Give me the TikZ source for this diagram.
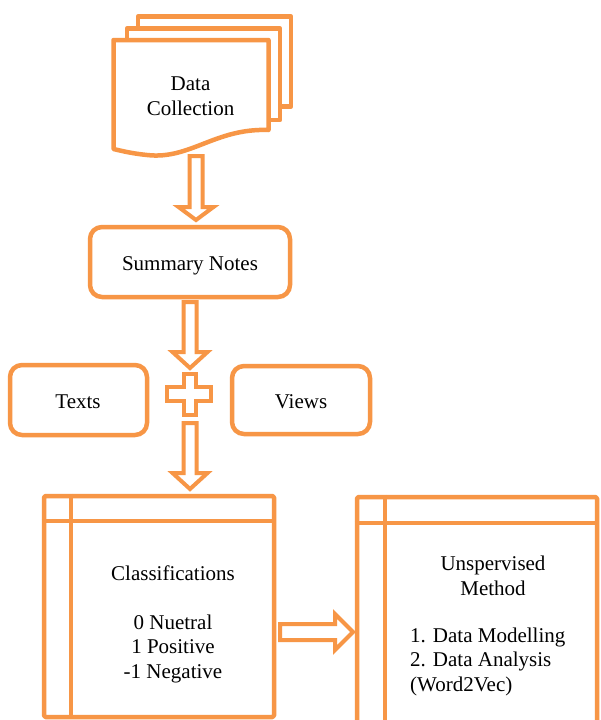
\documentclass[tikz,border=0pt]{standalone}
\usepackage{fontspec}
\setmainfont{Liberation Serif}
\definecolor{orgc}{RGB}{247,150,70}
\tikzset{
  ol/.style={draw=orgc, line width=4.5pt, line join=round},
  rbox/.style={ol, fill=white, rounded corners=12pt, inner sep=0pt},
  panel/.style={ol, fill=white, rounded corners=1.5pt, inner sep=0pt},
  txt/.style={font=\fontsize{21}{24.5}\selectfont, inner sep=0pt, anchor=base},
  arr/.style={draw=orgc, line width=4pt, line join=miter, fill=white}
}
\newcommand\bdown[4]{\draw[arr] (#1-6.5,#2) -- (#1+6.5,#2) -- (#1+6.5,#3) -- (#1+17.5,#3) -- (#1,#4) -- (#1-17.5,#3) -- (#1-6.5,#3) -- cycle;}
\begin{document}
\begin{tikzpicture}[x=1pt,y=-1pt]
\clip (0,0) rectangle (600,720);
\fill[white] (0,0) rectangle (600,720);
% Data collection: multi-document
\draw[ol, fill=white] (138,28.5) -- (138,16.5) -- (291,16.5) -- (291,106.5) -- (280,106.5);
\draw[ol, fill=white] (127,40) -- (127,28.5) -- (280,28.5) -- (280,120) -- (268.5,120);
\draw[ol, fill=white] (113.5,40) -- (268.5,40) -- (268.5,130)
  .. controls (215,128) and (190,160) .. (147,155)
  .. controls (132,153.5) and (122,151) .. (113.5,149) -- cycle;
\node[txt, align=center] (dc) at (190.5,115) {Data\\Collection};
% arrow 1
\bdown{196}{156}{207}{220}
% Summary notes
\node[rbox, minimum width=200pt, minimum height=70pt] (sn) at (190,262) {};
\node[txt] (snt) at (190,270) {Summary Notes};
% arrow 2
\bdown{190}{302}{352}{368}
% plus
\draw[arr] (184,374) -- (196,374) -- (196,387) -- (211,387) -- (211,401) -- (196,401) -- (196,415) -- (184,415) -- (184,401) -- (167,401) -- (167,387) -- (184,387) -- cycle;
% arrow 3
\bdown{190}{423}{473}{489}
% Texts / Views
\node[rbox, minimum width=137pt, minimum height=70pt] (tx) at (78.5,400) {};
\node[txt] (txt) at (78,408) {Texts};
\node[rbox, minimum width=138pt, minimum height=68pt] (vw) at (301,400) {};
\node[txt] (vwt) at (301,408) {Views};
% Classifications panel
\node[panel, minimum width=230pt, minimum height=221pt] (cls) at (159,606.5) {};
\draw[ol] ([xshift=29pt]cls.north west) -- ([xshift=29pt]cls.south west);
\draw[ol] ([yshift=-27pt]cls.north west) -- ([yshift=-27pt]cls.north east);
\node[txt, align=center] (clst) at (173,678) {Classifications\\[24.5pt]0 Nuetral\\1 Positive\\-1 Negative};
% Unsupervised panel
\node[panel, minimum width=240pt, minimum height=245pt] (us) at (477,619.5) {};
\draw[ol] ([xshift=30pt]us.north west) -- ([xshift=30pt]us.south west);
\draw[ol] ([yshift=-28pt]us.north west) -- ([yshift=-28pt]us.north east);
\node[txt, align=center] (ust) at (493,595) {Unspervised\\Method};
\node[txt, align=left, anchor=base west] (usl) at (410,691) {1. Data Modelling\\2. Data Analysis\\(Word2Vec)};
% right arrow
\draw[arr] (280,624) -- (335,624) -- (335,614) -- (353,632) -- (335,650) -- (335,640) -- (280,640) -- cycle;
\end{tikzpicture}
\end{document}
